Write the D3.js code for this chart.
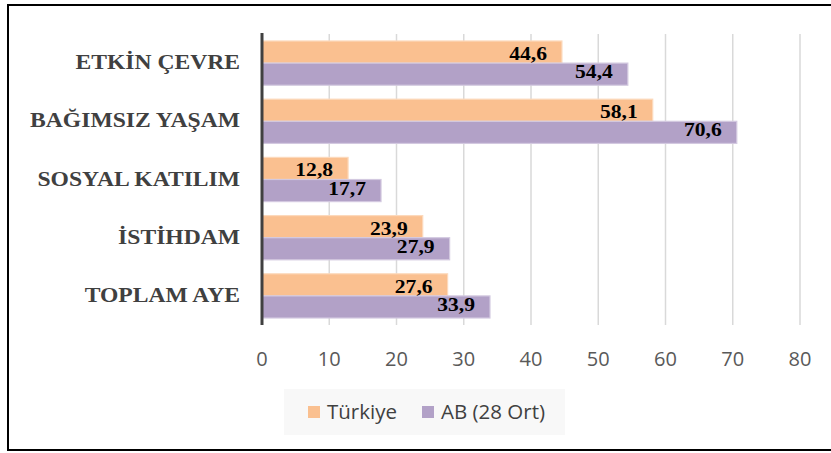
<!DOCTYPE html>
<html>
<head>
<meta charset="utf-8">
<script src="https://cdn.jsdelivr.net/npm/d3@7"></script>
<style>
  body { margin: 0; background: #fff; }
  svg { display: block; }
</style>
</head>
<body>
<div id="chart"></div>
<script>
var categories = ['ETKİN ÇEVRE', 'BAĞIMSIZ YAŞAM', 'SOSYAL KATILIM', 'İSTİHDAM', 'TOPLAM AYE'];
var turkiye = [44.6, 58.1, 12.8, 23.9, 27.6];
var ab = [54.4, 70.6, 17.7, 27.9, 33.9];
var seriesNames = ['Türkiye', 'AB (28 Ort)'];
var tickValues = [0, 10, 20, 30, 40, 50, 60, 70, 80];

var colors = ['#FAC090', '#B2A1C7'];
var strokes = ['#FCD9BC', '#D3C9E0'];

var W = 831, H = 453;
var svg = d3.select('#chart')
            .append('svg')
            .attr('width', W)
            .attr('height', H);

// outer frame (right side runs off the picture)
svg.append('rect')
   .attr('x', 8)
   .attr('y', 5)
   .attr('width', 840)
   .attr('height', 445)
   .style('fill', 'white')
   .style('stroke', 'black')
   .style('stroke-width', 2);

var x = d3.scaleLinear().domain([0, 80]).range([262, 800]);
var y = d3.scaleBand().domain(categories).range([34, 325]).paddingInner(0.24).paddingOuter(0.12);
var sub = d3.scaleBand().domain([0, 1]).range([0, y.bandwidth()]);

// grid
svg.selectAll('line.grid')
   .data(tickValues.slice(1))
   .enter()
   .append('line')
   .attr('class', 'grid')
   .attr('x1', function(d){return x(d);})
   .attr('x2', function(d){return x(d);})
   .attr('y1', 34)
   .attr('y2', 325)
   .style('stroke', '#d9d9d9')
   .style('stroke-width', 1.5);

// tick labels
svg.selectAll('text.tick')
   .data(tickValues)
   .enter()
   .append('text')
   .attr('class', 'tick')
   .attr('x', function(d){return x(d);})
   .attr('y', 366)
   .attr('text-anchor', 'middle')
   .style('font-family', '"Open Sans", sans-serif')
   .style('font-size', '20px')
   .style('fill', '#595959')
   .text(function(d){return d;});

var rows = categories.map(function(c, i){ return {cat: c, vals: [turkiye[i], ab[i]]}; });

var groups = svg.selectAll('g.row')
                .data(rows)
                .enter()
                .append('g')
                .attr('class', 'row')
                .attr('transform', function(d){return 'translate(0,' + y(d.cat) + ')';});

groups.selectAll('rect')
      .data(function(d){return d.vals;})
      .enter()
      .append('rect')
      .attr('x', x(0))
      .attr('y', function(d, i){return sub(i);})
      .attr('width', function(d){return x(d) - x(0);})
      .attr('height', sub.bandwidth())
      .style('fill', function(d, i){return colors[i];})
      .style('stroke', function(d, i){return strokes[i];})
      .style('stroke-width', 1.2);

// value labels, stretched a bit like the original
groups.selectAll('text.val')
      .data(function(d){return d.vals;})
      .enter()
      .append('text')
      .attr('class', 'val')
      .attr('transform', function(d, i){
         return 'translate(' + (x(d) - 15) + ',' + (sub(i) + sub.bandwidth() / 2 + (i === 0 ? 8 : 4)) + ') scale(1.2,1)';
      })
      .attr('text-anchor', 'end')
      .style('font-family', '"Liberation Serif", "Times New Roman", serif')
      .style('font-weight', 'bold')
      .style('font-size', '18px')
      .style('fill', '#000')
      .text(function(d){return String(d).replace('.', ',');});

// category labels (slightly stretched like the original)
svg.selectAll('text.cat')
   .data(categories)
   .enter()
   .append('text')
   .attr('class', 'cat')
   .attr('transform', function(d){return 'translate(240,' + (y(d) + y.bandwidth() / 2 + 6) + ') scale(1.18,1)';})
   .attr('text-anchor', 'end')
   .style('font-family', '"Liberation Serif", "Times New Roman", serif')
   .style('font-weight', 'bold')
   .style('font-size', '20px')
   .style('fill', '#404040')
   .text(function(d){return d;});

// axis line
svg.append('line')
   .attr('x1', x(0))
   .attr('x2', x(0))
   .attr('y1', 33)
   .attr('y2', 325)
   .style('stroke', '#404040')
   .style('stroke-width', 3);

// legend
var legend = svg.append('g');
legend.append('rect')
      .attr('x', 284)
      .attr('y', 389)
      .attr('width', 281)
      .attr('height', 46)
      .style('fill', '#f8f8f8');

var legendX = [308, 422];
seriesNames.forEach(function(name, i){
   legend.append('rect')
         .attr('x', legendX[i])
         .attr('y', 406)
         .attr('width', 12)
         .attr('height', 12)
         .style('fill', colors[i]);
   legend.append('text')
         .attr('x', legendX[i] + 19)
         .attr('y', 419)
         .style('font-family', '"Open Sans", sans-serif')
         .style('font-size', '20.5px')
         .style('fill', '#404040')
         .text(name);
});
</script>
</body>
</html>
